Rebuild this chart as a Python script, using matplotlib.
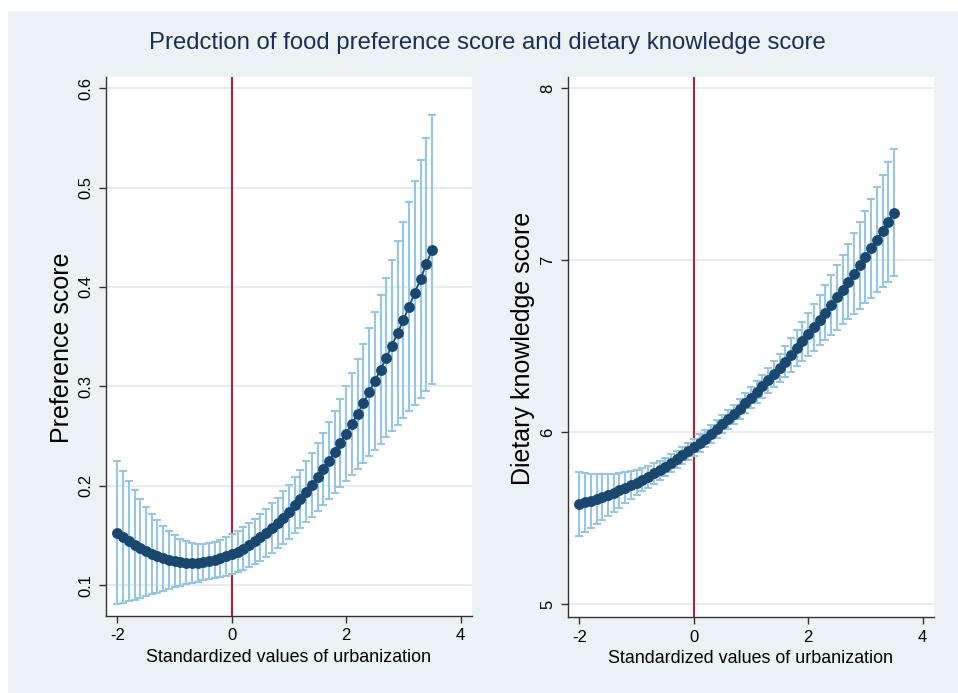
import matplotlib
matplotlib.use("Agg")
import matplotlib.pyplot as plt
from matplotlib.patches import Rectangle

# ---------------- data ----------------
x_vals = [-2.0, -1.9, -1.8, -1.7, -1.6, -1.5, -1.4, -1.3, -1.2, -1.1,
          -1.0, -0.9, -0.8, -0.7, -0.6, -0.5, -0.4, -0.3, -0.2, -0.1,
          0.0, 0.1, 0.2, 0.3, 0.4, 0.5, 0.6, 0.7, 0.8, 0.9,
          1.0, 1.1, 1.2, 1.3, 1.4, 1.5, 1.6, 1.7, 1.8, 1.9,
          2.0, 2.1, 2.2, 2.3, 2.4, 2.5, 2.6, 2.7, 2.8, 2.9,
          3.0, 3.1, 3.2, 3.3, 3.4, 3.5]

pref_pred = [0.1527, 0.1482, 0.1441, 0.1403, 0.1369, 0.1339, 0.1312, 0.1288, 0.1268, 0.1252,
             0.1240, 0.1231, 0.1225, 0.1223, 0.1225, 0.1230, 0.1239, 0.1251, 0.1267, 0.1287,
             0.1310, 0.1337, 0.1367, 0.1401, 0.1438, 0.1479, 0.1524, 0.1572, 0.1624, 0.1679,
             0.1738, 0.1801, 0.1867, 0.1937, 0.2010, 0.2087, 0.2167, 0.2251, 0.2339, 0.2430,
             0.2525, 0.2623, 0.2725, 0.2830, 0.2939, 0.3052, 0.3168, 0.3288, 0.3411, 0.3538,
             0.3669, 0.3803, 0.3941, 0.4082, 0.4227, 0.4375]
pref_lo = [0.0805, 0.0820, 0.0836, 0.0853, 0.0870, 0.0887, 0.0905, 0.0923, 0.0941, 0.0959,
           0.0977, 0.0993, 0.1008, 0.1022, 0.1035, 0.1046, 0.1057, 0.1068, 0.1080, 0.1094,
           0.1110, 0.1130, 0.1153, 0.1179, 0.1210, 0.1244, 0.1282, 0.1323, 0.1368, 0.1416,
           0.1466, 0.1519, 0.1573, 0.1630, 0.1687, 0.1745, 0.1805, 0.1865, 0.1925, 0.1986,
           0.2047, 0.2108, 0.2170, 0.2232, 0.2294, 0.2357, 0.2421, 0.2485, 0.2550, 0.2615,
           0.2681, 0.2747, 0.2815, 0.2883, 0.2951, 0.3021]
pref_hi = [0.2249, 0.2144, 0.2046, 0.1954, 0.1869, 0.1790, 0.1718, 0.1653, 0.1595, 0.1545,
           0.1503, 0.1468, 0.1442, 0.1424, 0.1415, 0.1414, 0.1421, 0.1435, 0.1455, 0.1480,
           0.1510, 0.1544, 0.1581, 0.1622, 0.1667, 0.1715, 0.1766, 0.1821, 0.1880, 0.1943,
           0.2011, 0.2083, 0.2161, 0.2244, 0.2333, 0.2428, 0.2530, 0.2638, 0.2753, 0.2874,
           0.3003, 0.3138, 0.3280, 0.3429, 0.3584, 0.3746, 0.3915, 0.4091, 0.4273, 0.4462,
           0.4657, 0.4858, 0.5067, 0.5281, 0.5502, 0.5729]

know_pred = [5.5850, 5.5936, 5.6031, 5.6133, 5.6244, 5.6363, 5.6490, 5.6626, 5.6769, 5.6921,
             5.7081, 5.7249, 5.7425, 5.7610, 5.7802, 5.8003, 5.8212, 5.8429, 5.8655, 5.8888,
             5.9130, 5.9380, 5.9638, 5.9904, 6.0179, 6.0462, 6.0753, 6.1052, 6.1359, 6.1674,
             6.1998, 6.2330, 6.2670, 6.3018, 6.3375, 6.3739, 6.4112, 6.4493, 6.4882, 6.5279,
             6.5685, 6.6099, 6.6520, 6.6951, 6.7389, 6.7835, 6.8290, 6.8753, 6.9224, 6.9703,
             7.0190, 7.0686, 7.1190, 7.1702, 7.2222, 7.2750]
know_lo = [5.3990, 5.4223, 5.4457, 5.4692, 5.4926, 5.5161, 5.5396, 5.5631, 5.5865, 5.6098,
           5.6331, 5.6562, 5.6791, 5.7018, 5.7245, 5.7471, 5.7697, 5.7925, 5.8155, 5.8390,
           5.8630, 5.8876, 5.9129, 5.9390, 5.9658, 5.9932, 6.0214, 6.0502, 6.0795, 6.1092,
           6.1393, 6.1696, 6.2001, 6.2306, 6.2612, 6.2917, 6.3222, 6.3527, 6.3832, 6.4136,
           6.4440, 6.4744, 6.5048, 6.5352, 6.5657, 6.5963, 6.6269, 6.6575, 6.6883, 6.7191,
           6.7500, 6.7810, 6.8122, 6.8434, 6.8747, 6.9061]
know_hi = [5.7710, 5.7649, 5.7604, 5.7575, 5.7562, 5.7565, 5.7584, 5.7620, 5.7673, 5.7743,
           5.7831, 5.7936, 5.8059, 5.8201, 5.8360, 5.8535, 5.8727, 5.8934, 5.9154, 5.9387,
           5.9630, 5.9884, 6.0147, 6.0419, 6.0700, 6.0991, 6.1291, 6.1602, 6.1923, 6.2257,
           6.2603, 6.2964, 6.3339, 6.3730, 6.4137, 6.4561, 6.5001, 6.5458, 6.5932, 6.6423,
           6.6930, 6.7453, 6.7993, 6.8549, 6.9120, 6.9708, 7.0311, 7.0930, 7.1565, 7.2215,
           7.2880, 7.3561, 7.4257, 7.4969, 7.5696, 7.6439]

x_ticks = [-2, 0, 2, 4]
pref_ticks = [0.1, 0.2, 0.3, 0.4, 0.5, 0.6]
pref_tick_labels = ["0.1", "0.2", "0.3", "0.4", "0.5", "0.6"]
know_ticks = [5, 6, 7, 8]
know_tick_labels = ["5", "6", "7", "8"]

title = "Predction of food preference score and dietary knowledge score"
x_label = "Standardized values of urbanization"
pref_label = "Preference score"
know_label = "Dietary knowledge score"

# ---------------- style ----------------
plt.rcParams['font.family'] = ['Liberation Sans', 'DejaVu Sans']
BG = "#EAF2F3"
GRID = "#E3ECEE"
NAVY = "#1A476F"
CI = "#90C6EA"
RED = "#C8102E"
AXC = "#333333"

W, H = 958, 693
fig = plt.figure(figsize=(W / 100, H / 100), dpi=100, facecolor="white")
fig.patches.append(Rectangle((8 / W, 0), 1 - 8 / W, (H - 11) / H,
                             transform=fig.transFigure, facecolor=BG,
                             edgecolor="none", zorder=-10))

fig.text(487 / W, 1 - 43 / H, title, ha="center", va="center",
         fontsize=17.2, color="#1C2D5A")


def make_panel(rect, pred, lo, hi, yticks, ylabels, ylim):
    ax = fig.add_axes(rect)
    ax.set_facecolor("white")
    ax.set_xlim(-2.2, 4.2)
    ax.set_ylim(*ylim)
    for t in yticks:
        ax.axhline(t, color=GRID, lw=1.3, zorder=0)
    ax.axvline(0, color=RED, lw=1.4, zorder=1)
    ax.errorbar(x_vals, pred, yerr=[[p - l for p, l in zip(pred, lo)],
                                    [h - p for p, h in zip(pred, hi)]],
                fmt="none", ecolor=CI, elinewidth=1.4, capsize=3.2,
                capthick=1.4, zorder=2)
    ax.plot(x_vals, pred, "-o", color=NAVY, lw=1.3, ms=6.8,
            markeredgecolor=NAVY, zorder=3)
    ax.set_xticks(x_ticks)
    ax.set_xticklabels([str(t) for t in x_ticks])
    ax.set_yticks(yticks)
    ax.set_yticklabels(ylabels, rotation=90, va="center")
    ax.tick_params(axis="both", direction="out", length=5, width=1,
                   color=AXC, labelsize=12, labelcolor="black", pad=4)
    for s in ["top", "right"]:
        ax.spines[s].set_visible(False)
    for s in ["left", "bottom"]:
        ax.spines[s].set_color(AXC)
        ax.spines[s].set_linewidth(1.0)
    ax.set_xlabel(x_label, fontsize=12.9, labelpad=4)
    return ax


make_panel([106 / W, 77 / H, 366 / W, 539 / H], pref_pred, pref_lo, pref_hi,
           pref_ticks, pref_tick_labels, (0.0688, 0.6114))
make_panel([568 / W, 76 / H, 366 / W, 540 / H], know_pred, know_lo, know_hi,
           know_ticks, know_tick_labels, (4.927, 8.064))

fig.text(62 / W, 1 - 348 / H, pref_label, rotation=90, ha="center",
         va="center", fontsize=18)
fig.text(523 / W, 1 - 348 / H, know_label, rotation=90, ha="center",
         va="center", fontsize=18)

fig.savefig("out.png", dpi=100, facecolor=fig.get_facecolor())
